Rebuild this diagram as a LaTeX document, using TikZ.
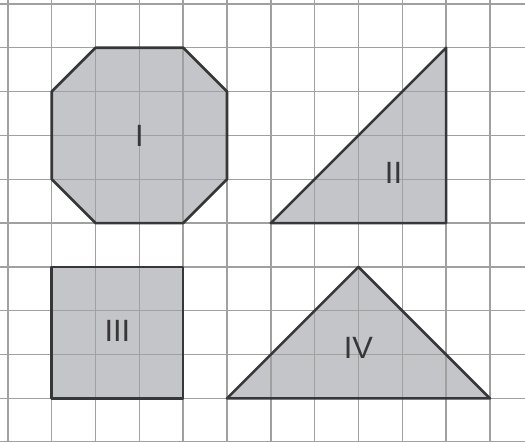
\documentclass[tikz,border=0pt]{standalone}
\usepackage{fontspec}
\setsansfont{Liberation Sans}
\definecolor{shapefill}{RGB}{196,197,201}
\definecolor{gridgray}{RGB}{160,160,160}
\definecolor{edgegray}{RGB}{55,55,58}
\begin{document}
\begin{tikzpicture}[
    gridline/.style={line width=0.9pt,gridgray},
    shapeedge/.style={line width=1.7pt,edgegray,line join=round},
    shapelabel/.style={font=\sffamily\fontsize{20}{24}\selectfont,text=edgegray}]
      \useasboundingbox (-0.18,-0.98) rectangle (11.8,9.09);

      %%%%%%%%%%%%%%%%%%%%%%%%%%%%%%%%%%%%%%%%%%%%%%%%%%%%%%%%%%%%%%%%%%%%%%%%%%%
      %%%%  Fills
      \fill[shapefill] (2,8) -- (4,8) -- (5,7) -- (5,5) -- (4,4) -- (2,4) -- (1,5) -- (1,7) -- cycle;
      \fill[shapefill] (6,4) -- (10,8) -- (10,4) -- cycle;
      \fill[shapefill] (1,0) rectangle (4,3);
      \fill[shapefill] (5,0) -- (8,3) -- (11,0) -- cycle;

      %%%%%%%%%%%%%%%%%%%%%%%%%%%%%%%%%%%%%%%%%%%%%%%%%%%%%%%%%%%%%%%%%%%%%%%%%%%
      %%%%  Grid
      \foreach \x in {0,...,11}
       {\draw[gridline] (\x,-1.2) -- (\x,9.3);};
      \foreach \y in {-1,...,9}
       {\draw[gridline] (-0.4,\y) -- (12,\y);};

      %%%%%%%%%%%%%%%%%%%%%%%%%%%%%%%%%%%%%%%%%%%%%%%%%%%%%%%%%%%%%%%%%%%%%%%%%%%
      %%%%  Outlines
      \draw[shapeedge] (2,8) -- (4,8) -- (5,7) -- (5,5) -- (4,4) -- (2,4) -- (1,5) -- (1,7) -- cycle;
      \draw[shapeedge] (6,4) -- (10,8) -- (10,4) -- cycle;
      \draw[shapeedge] (1,0) rectangle (4,3);
      \draw[shapeedge] (5,0) -- (8,3) -- (11,0) -- cycle;

      \node[shapelabel] (octI) at (3,6) {I};
      \node[shapelabel] (triII) at (8.8,5.15) {II};
      \node[shapelabel] (sqIII) at (2.5,1.55) {III};
      \node[shapelabel] (triIV) at (8,1.14) {IV};
    \end{tikzpicture}
\end{document}
